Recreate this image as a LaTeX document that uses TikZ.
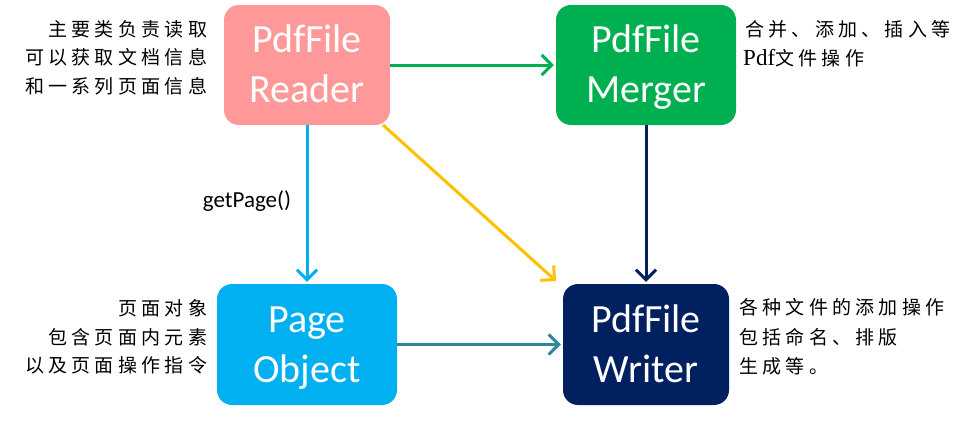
\documentclass[tikz,border=0pt]{standalone}
\usepackage{fontspec}
\usetikzlibrary{arrows.meta}
\newfontfamily\carlito{Carlito}
\newfontfamily\cjk[LetterSpace=22.6]{Noto Sans CJK SC}
\newfontfamily\lserif{Liberation Serif}
\definecolor{readerpink}{HTML}{FF9999}
\definecolor{mergergreen}{HTML}{00B050}
\definecolor{pageblue}{HTML}{00B0F0}
\definecolor{writernavy}{HTML}{002060}
\definecolor{arrowteal}{HTML}{31859C}
\definecolor{arrowyellow}{HTML}{FFC000}
\tikzset{
  box/.style={rounded corners=15pt, inner sep=0pt, align=center, text=white,
    font=\carlito\fontsize{40}{50}\selectfont},
  boxtext/.style={inner sep=0pt, align=center, text=white,
    font=\carlito\fontsize{40}{50}\selectfont},
  arr/.style={-{Straight Barb[length=10pt,width=20pt]}, line width=3pt, shorten >=2pt},
  note/.style={font=\cjk\fontsize{19}{19}\selectfont, inner sep=0pt},
  lbl/.style={font=\carlito\fontsize{23}{23}\selectfont, inner sep=0pt}
}
\newcommand{\trailfix}{\kern-4.3pt}
\begin{document}
\begin{tikzpicture}[x=1pt,y=-1pt]
\useasboundingbox (0,0) rectangle (976,423);
% boxes
\node[box, fill=readerpink, minimum width=166pt, minimum height=120pt] (reader) at (307,65) {};
\node[box, fill=mergergreen, minimum width=180pt, minimum height=120pt] (merger) at (646,65) {};
\node[box, fill=pageblue, minimum width=180pt, minimum height=121pt] (page) at (307,344.5) {};
\node[box, fill=writernavy, minimum width=166pt, minimum height=121pt] (writer) at (646,344.5) {};
\node[boxtext] (readert) at ([yshift=-2.5pt]reader.center) {\vphantom{d}PdfFile\\Reader\vphantom{g}};
\node[boxtext] (mergert) at ([yshift=-2.5pt]merger.center) {\vphantom{d}PdfFile\\Merger\vphantom{g}};
\node[boxtext] (paget) at ([yshift=-2.5pt]page.center) {\vphantom{d}Page\\Object\vphantom{g}};
\node[boxtext] (writert) at ([yshift=-2.5pt]writer.center) {\vphantom{d}PdfFile\\Writer\vphantom{g}};
% connectors
\coordinate (ystart) at (383,125);
\coordinate (yend) at (556,281);
\draw[arr, draw=mergergreen] (reader.east) -- (merger.west);
\draw[arr, draw=pageblue] (reader.south) -- (page.north);
\draw[arr, draw=arrowyellow, shorten >=0pt] (ystart) -- (yend);
\draw[arr, draw=writernavy] (merger.south) -- (writer.north);
\draw[arr, draw=arrowteal] (page.east) -- (writer.west);
\node[lbl, anchor=base] (getpage) at (247,207) {getPage()};
% notes left top
\node[note, anchor=base east] (ra) at (203,36) {主要类负责读取\trailfix};
\node[note, anchor=base east] (rb) at (203,64.5) {可以获取文档信息\trailfix};
\node[note, anchor=base east] (rc) at (203,93) {和一系列页面信息\trailfix};
% notes left bottom
\node[note, anchor=base east] (pa) at (203,315) {页面对象\trailfix};
\node[note, anchor=base east] (pb) at (203,344) {包含页面内元素\trailfix};
\node[note, anchor=base east] (pc) at (203,372.5) {以及页面操作指令\trailfix};
% notes right top
\node[note, anchor=base west] (ma) at (745,36) {合并、添加、插入等};
\node[note, anchor=base west] (mb) at (743,65) {{\lserif\fontsize{23}{23}\selectfont Pdf}文件操作};
% notes right bottom
\node[note, anchor=base west] (wa) at (739,314) {各种文件的添加操作};
\node[note, anchor=base west] (wb) at (739,344) {包括命名、排版};
\node[note, anchor=base west] (wc) at (739,373) {生成等。};
\end{tikzpicture}
\end{document}
